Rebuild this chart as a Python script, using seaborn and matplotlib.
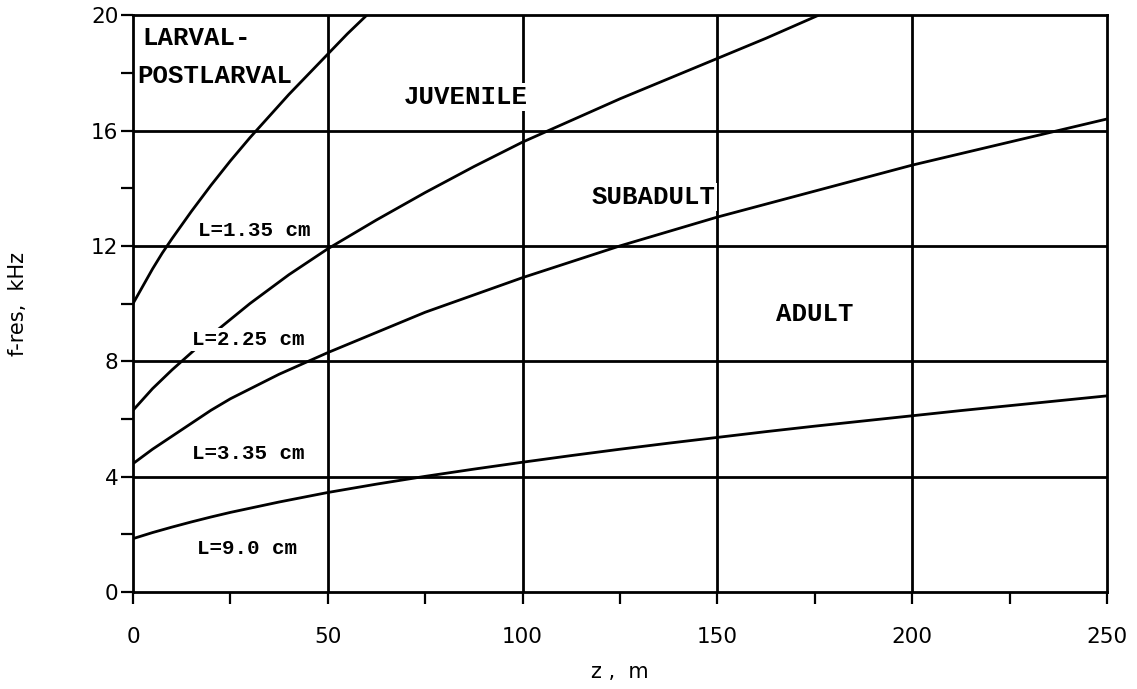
"""
Swimbladder resonance frequency vs depth for four fish lengths.
"""

import pandas as pd
import matplotlib
matplotlib.use("Agg")
import matplotlib.pyplot as plt
import seaborn as sns

sns.set_style("ticks")
plt.rcParams["font.family"] = ["DejaVu Sans"]
plt.rcParams["text.color"] = "black"
plt.rcParams["axes.labelcolor"] = "black"
plt.rcParams["xtick.color"] = "black"
plt.rcParams["ytick.color"] = "black"

# depth z (m) and resonance frequency (kHz)
z_l135 = [0, 2.5, 5, 7.5, 10, 15, 20, 25, 30, 35, 40, 45, 50, 55, 60]
f_l135 = [10.0, 10.6, 11.2, 11.75, 12.25, 13.2, 14.1, 14.95, 15.75, 16.5,
          17.25, 17.95, 18.65, 19.35, 20.0]

z_l225 = [0, 5, 10, 15, 20, 25, 30, 40, 50, 62.5, 75, 87.5, 100, 112.5, 125,
          137.5, 150, 162.5, 176]
f_l225 = [6.3, 7.05, 7.7, 8.3, 8.9, 9.45, 10.0, 11.0, 11.9, 12.9, 13.85, 14.75,
          15.6, 16.35, 17.1, 17.8, 18.5, 19.2, 20.0]

z_l335 = [0, 5, 10, 15, 20, 25, 37.5, 50, 62.5, 75, 87.5, 100, 112.5, 125,
          137.5, 150, 162.5, 175, 187.5, 200, 212.5, 225, 237.5, 250]
f_l335 = [4.45, 4.95, 5.4, 5.85, 6.3, 6.7, 7.55, 8.3, 9.0, 9.7, 10.3, 10.9,
          11.45, 12.0, 12.5, 13.0, 13.45, 13.9, 14.35, 14.8, 15.2, 15.6, 16.0,
          16.4]

z_l90 = [0, 5, 10, 15, 20, 25, 37.5, 50, 62.5, 75, 87.5, 100, 112.5, 125,
         137.5, 150, 162.5, 175, 187.5, 200, 212.5, 225, 237.5, 250]
f_l90 = [1.85, 2.06, 2.25, 2.43, 2.6, 2.76, 3.12, 3.45, 3.74, 4.01, 4.26, 4.5,
         4.73, 4.95, 5.16, 5.36, 5.56, 5.75, 5.93, 6.11, 6.29, 6.46, 6.63, 6.8]

curve_labels = ["L=1.35 cm", "L=2.25 cm", "L=3.35 cm", "L=9.0 cm"]
curve_label_pos = [(31.0, 12.55), (29.5, 8.75), (29.5, 4.8), (29.3, 1.5)]

stage_labels = ["JUVENILE", "SUBADULT", "ADULT"]
stage_label_pos = [(85.5, 17.15), (133.5, 13.7), (175, 9.65)]

x_ticks = [0, 50, 100, 150, 200, 250]
y_ticks = [0, 4, 8, 12, 16, 20]

frames = []
for name, zz, ff in zip(curve_labels, [z_l135, z_l225, z_l335, z_l90],
                        [f_l135, f_l225, f_l335, f_l90]):
    frames.append(pd.DataFrame({"z": zz, "f": ff, "L": name}))
df = pd.concat(frames, ignore_index=True)

fig = plt.figure(figsize=(11.37, 6.89), dpi=100)
ax = fig.add_axes([0.117, 0.1408, 0.8566, 0.8372])

for name in curve_labels:
    sns.lineplot(data=df[df["L"] == name], x="z", y="f", ax=ax,
                 color="black", linewidth=2.0, legend=False, zorder=3)

ax.set_xlim(0, 250)
ax.set_ylim(0, 20)
ax.set_xticks(x_ticks)
ax.set_yticks(y_ticks)
ax.set_xticks([25, 75, 125, 175, 225], minor=True)
ax.set_yticks([2, 6, 10, 14, 18], minor=True)
ax.tick_params(axis="both", which="both", direction="out", length=8.5,
               width=1.6, color="black", labelsize=15.5)
ax.tick_params(axis="x", which="major", pad=17)
ax.tick_params(axis="y", which="major", pad=2)

# grid only at the inner major ticks
for x in x_ticks[1:-1]:
    ax.axvline(x, color="black", linewidth=2.0, zorder=1)
for y in y_ticks[1:-1]:
    ax.axhline(y, color="black", linewidth=2.0, zorder=1)

for sp in ax.spines.values():
    sp.set_visible(True)
    sp.set_linewidth(2.0)
    sp.set_color("black")
    sp.set_zorder(6)

ax.set_xlabel("z ,  m", fontsize=15)
ax.set_ylabel("f-res,  kHz", fontsize=15)
ax.xaxis.set_label_coords(0.5, -0.139)
ax.xaxis.label.set_va("center")
ax.yaxis.set_label_coords(-0.118, 0.5)
ax.yaxis.label.set_va("center")

mono = dict(family="Liberation Mono", fontweight="bold", color="black")
box = dict(facecolor="white", edgecolor="none", pad=1.5)

ax.text(2.3, 19.2, "LARVAL-", ha="left", va="center", fontsize=18.5, zorder=5, **mono)
ax.text(1.0, 17.9, "POSTLARVAL", ha="left", va="center", fontsize=18.5, zorder=5, **mono)

for txt, (x, y) in zip(stage_labels, stage_label_pos):
    ax.text(x, y, txt, ha="center", va="center", fontsize=18.5, zorder=5,
            bbox=box, **mono)

for txt, (x, y) in zip(curve_labels, curve_label_pos):
    ax.text(x, y, txt, ha="center", va="center", fontsize=15, zorder=5,
            bbox=box, **mono)

plt.savefig("out.png", dpi=100)
plt.close()
